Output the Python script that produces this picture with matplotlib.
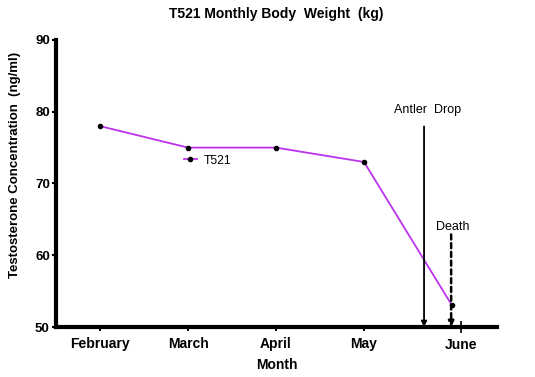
import matplotlib
matplotlib.use("Agg")
import matplotlib.pyplot as plt

plt.rcParams['font.family'] = ['Liberation Sans', 'DejaVu Sans']

months = ["February", "March", "April", "May", "June"]
month_x = [1, 2, 3, 4, 5]
weights = [78, 75, 75, 73, 53]
tick_pos = [1, 2, 3, 4, 5.10]
antler_drop_x = 4.682
death_x = 4.99

W, H = 535, 377
fig = plt.figure(figsize=(W / 100, H / 100), dpi=100)
ax = fig.add_axes([56 / W, (H - 327) / H, (497 - 56) / W, (327 - 40) / H])

ax.plot(month_x, weights, color='#BB33EE', lw=1.3, marker='o', ms=3,
        mfc='black', mec='black', label='T521')

ax.set_xlim(0.5, 5.511)
ax.set_ylim(50, 90)
ax.set_yticks([50, 60, 70, 80, 90])

ax.set_xticks(tick_pos[:4])
ax.set_xticklabels(months[:4], fontsize=10, fontweight='bold')
ax.set_xticks([tick_pos[4]], minor=True)
ax.set_xticklabels([months[4]], minor=True, fontsize=10, fontweight='bold')
ax.tick_params(axis='x', which='major', direction='out', length=3, width=1.5, pad=4)
ax.tick_params(axis='x', which='minor', direction='inout', length=8, width=1.2, pad=4)
ax.tick_params(axis='y', direction='out', length=3, width=1.5, pad=1.5, labelsize=9.5)
for t in ax.get_yticklabels():
    t.set_fontweight('bold')

for s in ['top', 'right']:
    ax.spines[s].set_visible(False)
for s in ['left', 'bottom']:
    ax.spines[s].set_linewidth(3)

ax.set_title('T521 Monthly Body  Weight  (kg)', fontsize=10, fontweight='bold', pad=16)
ax.set_xlabel('Month', fontsize=10, fontweight='bold', labelpad=4)
ax.set_ylabel('Testosterone Concentration  (ng/ml)', fontsize=9.5, fontweight='bold')
ax.yaxis.set_label_coords(-0.079, 0.563)

# Antler drop arrow
ax.annotate('', xy=(antler_drop_x, 50), xytext=(antler_drop_x, 77.95),
            arrowprops=dict(arrowstyle='-|>', color='black', lw=1.3,
                            mutation_scale=8, shrinkA=0, shrinkB=0))
ax.text(antler_drop_x + 0.04, 80.2, 'Antler  Drop', ha='center', va='center', fontsize=9)

# Death arrow
ax.annotate('', xy=(death_x, 50), xytext=(death_x, 62.9),
            arrowprops=dict(arrowstyle='-|>', color='black', lw=1.8, ls=(0, (2, 1.5)),
                            mutation_scale=8, shrinkA=0, shrinkB=0))
ax.text(death_x + 0.02, 64.0, 'Death', ha='center', va='center', fontsize=9)

ax.legend(loc='center left', bbox_to_anchor=(0.28, 0.58), frameon=False,
          handlelength=1.0, handletextpad=0.6, fontsize=8.8, borderaxespad=0)

fig.savefig('out.png', dpi=100)
